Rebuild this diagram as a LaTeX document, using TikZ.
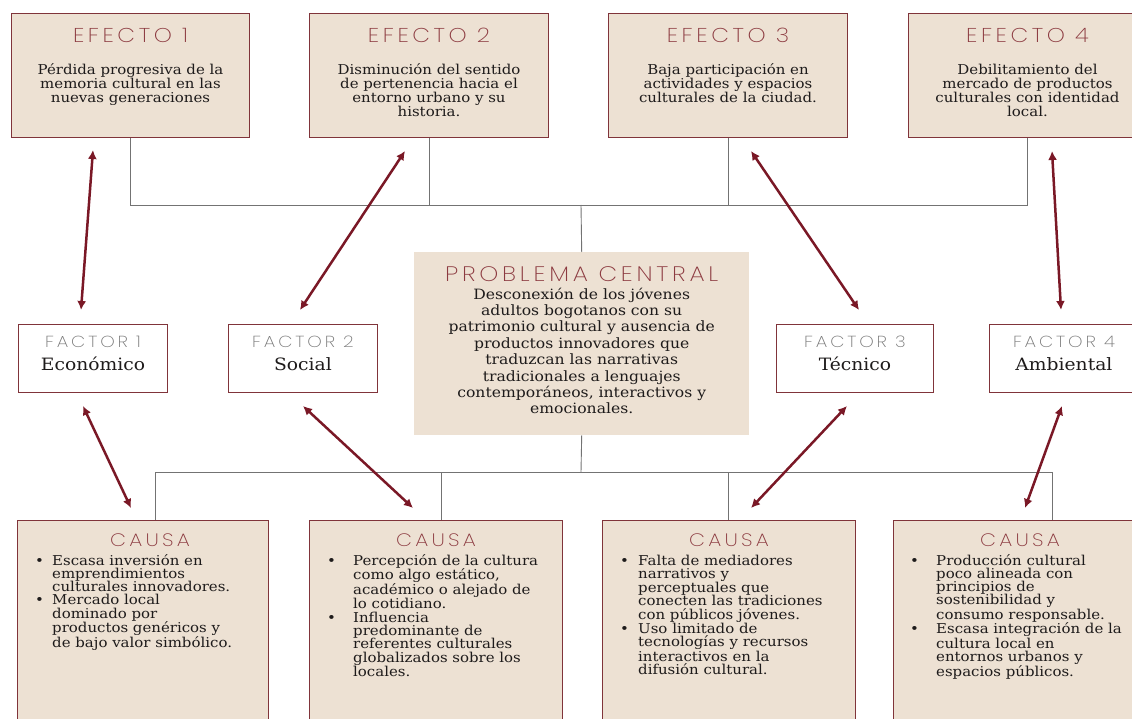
\documentclass[tikz,border=0pt]{standalone}
\usepackage{fontspec}
\setmainfont{DejaVu Serif}[FakeStretch=1.1]
\newfontfamily\titlefont{Poppins ExtraLight}[LetterSpace=18,FakeStretch=1.15]
\usetikzlibrary{arrows.meta}
\definecolor{boxfill}{RGB}{237,225,211}
\definecolor{boxdraw}{RGB}{128,52,58}
\definecolor{titlered}{RGB}{140,58,64}
\definecolor{factgray}{RGB}{120,120,120}
\definecolor{arrowred}{RGB}{122,24,38}
\definecolor{treegray}{RGB}{115,115,115}
\definecolor{bodytext}{RGB}{30,27,27}
\begin{document}
\begin{tikzpicture}[x=1pt,y=-1pt,
  box/.style={draw=boxdraw, line width=1pt, fill=boxfill, anchor=north west, inner sep=0pt},
  fbox/.style={draw=boxdraw, line width=0.9pt, fill=white, anchor=north west, inner sep=0pt},
  pbox/.style={fill=boxfill, anchor=north west, inner sep=0pt},
  ettl/.style={anchor=base, inner sep=0pt, text=titlered, font=\titlefont\fontsize{20}{20}\selectfont},
  pttl/.style={anchor=base, inner sep=0pt, text=titlered, font=\titlefont\fontsize{21}{21}\selectfont},
  cttl/.style={anchor=base, inner sep=0pt, text=titlered, font=\titlefont\fontsize{18}{18}\selectfont},
  fttl/.style={anchor=base, inner sep=0pt, text=factgray, font=\titlefont\fontsize{16}{16}\selectfont},
  ebody/.style={anchor=base, inner sep=0pt, text=bodytext, font=\fontsize{13.6}{14}\selectfont},
  pbody/.style={anchor=base, inner sep=0pt, text=bodytext, font=\fontsize{14.2}{16.4}\selectfont},
  fbody/.style={anchor=base, inner sep=0pt, text=bodytext, font=\fontsize{17}{17}\selectfont},
  cbody/.style={anchor=base west, inner sep=0pt, text=bodytext, font=\fontsize{13.6}{13.3}\selectfont},
  tree/.style={draw=treegray, line width=0.9pt},
  dbl/.style={draw=arrowred, line width=2.5pt, {Latex[length=9pt,width=9pt]}-{Latex[length=9pt,width=9pt]}}
]
\useasboundingbox (0,0) rectangle (1132,719);
\begin{scope}
\clip (0,0) rectangle (1132,719);
% effect boxes
\node[box, minimum width=238pt, minimum height=124pt] (E1) at (11,13) {};
\node[box, minimum width=239pt, minimum height=124pt] (E2) at (309,13) {};
\node[box, minimum width=239pt, minimum height=124pt] (E3) at (608,13) {};
\node[box, minimum width=238pt, minimum height=124pt] (E4) at (908,13) {};
% central
\node[pbox, minimum width=335pt, minimum height=183pt] (P) at (414,252) {};
% factors
\node[fbox, minimum width=149pt, minimum height=68pt] (F1) at (18,324) {};
\node[fbox, minimum width=149pt, minimum height=68pt] (F2) at (228,324) {};
\node[fbox, minimum width=157pt, minimum height=68pt] (F3) at (776,324) {};
\node[fbox, minimum width=149pt, minimum height=68pt] (F4) at (989,324) {};
% causes
\node[box, minimum width=251pt, minimum height=220pt] (C1) at (17,520) {};
\node[box, minimum width=253pt, minimum height=220pt] (C2) at (309,520) {};
\node[box, minimum width=253pt, minimum height=220pt] (C3) at (602,520) {};
\node[box, minimum width=253pt, minimum height=220pt] (C4) at (893,520) {};
\end{scope}

% effect texts
\node[ettl] (E1t) at ([yshift=-30pt]E1.north) {EFECTO 1};
\node[ettl] (E2t) at ([yshift=-30pt]E2.north) {EFECTO 2};
\node[ettl] (E3t) at ([yshift=-30pt]E3.north) {EFECTO 3};
\node[ettl] (E4t) at ([yshift=-30pt]E4.north) {EFECTO 4};
\node[ebody] (E1b) at ([yshift=-62pt]E1.north) {\parbox[t]{236pt}{\centering Pérdida progresiva de la\\ memoria cultural en las\\ nuevas generaciones}};
\node[ebody] (E2b) at ([yshift=-62pt]E2.north) {\parbox[t]{236pt}{\centering Disminución del sentido\\ de pertenencia hacia el\\ entorno urbano y su\\ historia.}};
\node[ebody] (E3b) at ([yshift=-62pt]E3.north) {\parbox[t]{236pt}{\centering Baja participación en\\ actividades y espacios\\ culturales de la ciudad.}};
\node[ebody] (E4b) at ([yshift=-62pt]E4.north) {\parbox[t]{236pt}{\centering Debilitamiento del\\ mercado de productos\\ culturales con identidad\\ local.}};

% central texts
\node[pttl] (Pt) at ([yshift=-29pt]P.north) {PROBLEMA CENTRAL};
\node[pbody] (Pb) at ([yshift=-47pt]P.north) {\parbox[t]{330pt}{\centering Desconexión de los jóvenes\\ adultos bogotanos con su\\ patrimonio cultural y ausencia de\\ productos innovadores que\\ traduzcan las narrativas\\ tradicionales a lenguajes\\ contemporáneos, interactivos y\\ emocionales.}};

% factor texts
\node[fttl] (F1t) at ([yshift=-23pt]F1.north) {FACTOR 1};
\node[fttl] (F2t) at ([yshift=-23pt]F2.north) {FACTOR 2};
\node[fttl] (F3t) at ([yshift=-23pt]F3.north) {FACTOR 3};
\node[fttl] (F4t) at ([yshift=-23pt]F4.north) {FACTOR 4};
\node[fbody] (F1b) at ([yshift=-46pt]F1.north) {Económico};
\node[fbody] (F2b) at ([yshift=-46pt]F2.north) {Social};
\node[fbody] (F3b) at ([yshift=-46pt]F3.north) {Técnico};
\node[fbody] (F4b) at ([yshift=-46pt]F4.north) {Ambiental};

% cause texts
\node[cttl] (C1t) at ([xshift=7pt,yshift=-26pt]C1.north) {CAUSA};
\node[cttl] (C2t) at ([yshift=-26pt]C2.north) {CAUSA};
\node[cttl] (C3t) at ([yshift=-26pt]C3.north) {CAUSA};
\node[cttl] (C4t) at ([yshift=-26pt]C4.north) {CAUSA};
\node[cbody] (C1b) at (35,565) {\parbox[t]{232pt}{\raggedright\makebox[17pt][l]{•}Escasa inversión en\\ \hspace*{17pt}emprendimientos\\ \hspace*{17pt}culturales innovadores.\\ \makebox[17pt][l]{•}Mercado local\\ \hspace*{17pt}dominado por\\ \hspace*{17pt}productos genéricos y\\ \hspace*{17pt}de bajo valor simbólico.}};
\node[cbody] (C2b) at (327,565) {\parbox[t]{236pt}{\raggedright\makebox[26pt][l]{•}Percepción de la cultura\\ \hspace*{26pt}como algo estático,\\ \hspace*{26pt}académico o alejado de\\ \hspace*{26pt}lo cotidiano.\\ \makebox[26pt][l]{•}Influencia\\ \hspace*{26pt}predominante de\\ \hspace*{26pt}referentes culturales\\ \hspace*{26pt}globalizados sobre los\\ \hspace*{26pt}locales.}};
\node[cbody] (C3b) at (620,565) {\parbox[t]{236pt}{\raggedright\makebox[18pt][l]{•}Falta de mediadores\\ \hspace*{18pt}narrativos y\\ \hspace*{18pt}perceptuales que\\ \hspace*{18pt}conecten las tradiciones\\ \hspace*{18pt}con públicos jóvenes.\\ \makebox[18pt][l]{•}Uso limitado de\\ \hspace*{18pt}tecnologías y recursos\\ \hspace*{18pt}interactivos en la\\ \hspace*{18pt}difusión cultural.}};
\node[cbody] (C4b) at (910,565) {\parbox[t]{236pt}{\raggedright\makebox[26pt][l]{•}Producción cultural\\ \hspace*{26pt}poco alineada con\\ \hspace*{26pt}principios de\\ \hspace*{26pt}sostenibilidad y\\ \hspace*{26pt}consumo responsable.\\ \makebox[26pt][l]{•}Escasa integración de la\\ \hspace*{26pt}cultura local en\\ \hspace*{26pt}entornos urbanos y\\ \hspace*{26pt}espacios públicos.}};

% tree connectors
\coordinate (tbar) at (581,205);
\coordinate (bbar) at (581,472);
\draw[tree] (E1.south) |- (tbar);
\draw[tree] (E2.south) |- (tbar);
\draw[tree] (E3.south) |- (tbar);
\draw[tree] (E4.south) |- (tbar);
\draw[tree] (tbar) -- (P.north);
\draw[tree] (P.south) -- (bbar);
\coordinate (c1top) at (155,520);
\coordinate (c2top) at (441,520);
\coordinate (c3top) at (728,520);
\coordinate (c4top) at (1052,520);
\draw[tree] (bbar) -| (c1top);
\draw[tree] (bbar) -| (c2top);
\draw[tree] (bbar) -| (c3top);
\draw[tree] (bbar) -| (c4top);

% double arrows
\coordinate (a1s) at (93,150);  \coordinate (a1e) at (81,310);
\coordinate (a2s) at (405,151); \coordinate (a2e) at (300,310);
\coordinate (a3s) at (751,151); \coordinate (a3e) at (859,310);
\coordinate (a4s) at (1052,151); \coordinate (a4e) at (1061,310);
\coordinate (b1s) at (83,406);  \coordinate (b1e) at (131,508);
\coordinate (b2s) at (303,406); \coordinate (b2e) at (413,508);
\coordinate (b3s) at (847,406); \coordinate (b3e) at (751,508);
\coordinate (b4s) at (1062,406); \coordinate (b4e) at (1025,508);
\draw[dbl] (a1s) -- (a1e);
\draw[dbl] (a2s) -- (a2e);
\draw[dbl] (a3s) -- (a3e);
\draw[dbl] (a4s) -- (a4e);
\draw[dbl] (b1s) -- (b1e);
\draw[dbl] (b2s) -- (b2e);
\draw[dbl] (b3s) -- (b3e);
\draw[dbl] (b4s) -- (b4e);
\end{tikzpicture}
\end{document}
